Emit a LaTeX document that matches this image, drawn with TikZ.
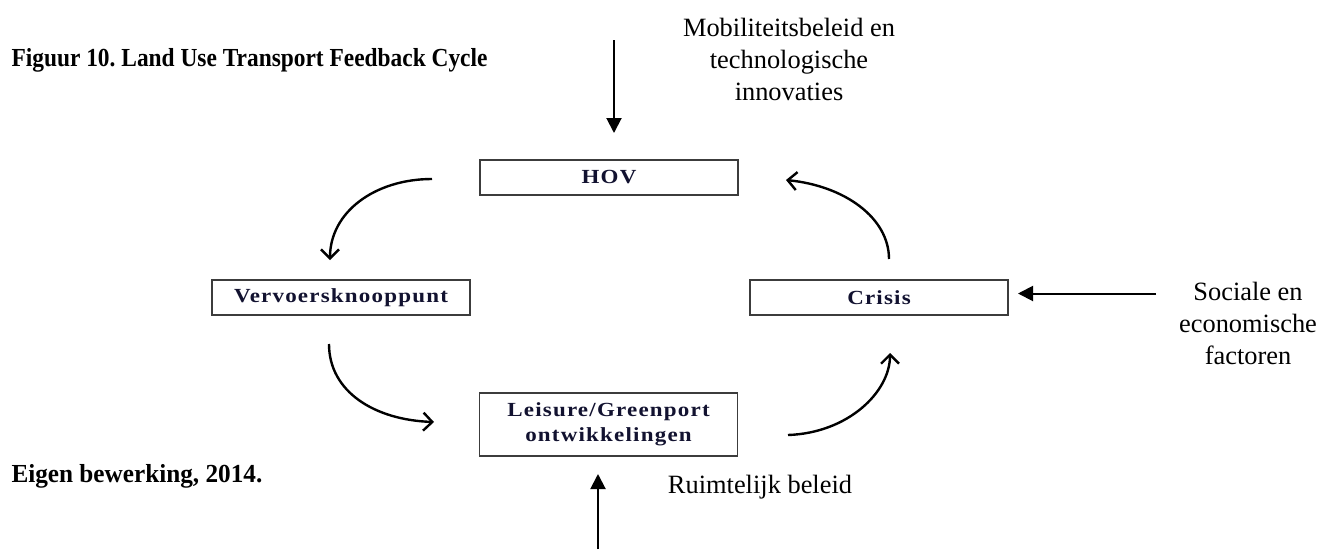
\documentclass[tikz,border=0pt]{standalone}
\usepackage{fontspec}
\setmainfont{Liberation Serif}
\newfontfamily\boxfont[FakeStretch=1.15,LetterSpace=6]{Liberation Serif}
\newfontfamily\titlefont[FakeStretch=0.9]{Liberation Serif}
\newfontfamily\sourcefont[FakeStretch=0.97]{Liberation Serif}
\usetikzlibrary{arrows.meta}
\definecolor{boxtext}{RGB}{18,18,48}
\definecolor{boxline}{RGB}{60,60,60}
\frenchspacing
\begin{document}
\begin{tikzpicture}[x=1pt,y=-1pt,
  stage/.style={draw=boxline, line width=1.3pt, fill=white, inner sep=0pt,
    minimum width=258pt, minimum height=35pt, align=center,
    font=\boxfont\bfseries\fontsize{20}{25}\selectfont, text=boxtext},
  influence/.style={line width=2pt, -{Triangle[length=15pt,width=15pt]}},
  flow/.style={line width=2.4pt, -{Straight Barb[length=9pt,width=18pt,line width=2.4pt]}},
  label/.style={align=center, font=\fontsize{26.4}{32}\selectfont},
  heading/.style={anchor=base west}]
\useasboundingbox (0,0) rectangle (1333,549);

% captions
\node[heading, font=\titlefont\bfseries\fontsize{26}{30}\selectfont] (title) at (8,66) {Figuur 10. Land Use Transport Feedback Cycle};
\node[heading, font=\sourcefont\bfseries\fontsize{26}{30}\selectfont] (source) at (8,482) {Eigen bewerking, 2014.};

% the four stages of the cycle
\node[stage] (hov) at (609,177.5) {HOV};
\node[stage] (knoop) at (341,297.5) {Vervoersknooppunt};
\node[stage] (crisis) at (879,297.5) {Crisis};
\node[stage, minimum height=63pt] (leisure) at (608.5,424.5) {Leisure/Greenport\\ontwikkelingen};

% external influences
\node[label] (mob) at (789,59) {Mobiliteitsbeleid en\\technologische\\innovaties};
\node[label] (soc) at (1248,323) {Sociale en\\economische\\factoren};
\node[label, anchor=base] (ruim) at (760,493) {Ruimtelijk beleid};

\coordinate (mobstart) at (614,40);
\coordinate (mobend) at (614,133);
\coordinate (socstart) at (1156,293.5);
\coordinate (socend) at (1018,293.5);
\coordinate (ruimstart) at (598,549);
\coordinate (ruimend) at (598,474);
\draw[influence] (mobstart) -- (mobend);
\draw[influence] (socstart) -- (socend);
\draw[influence] (ruimstart) -- (ruimend);

% curved arrows of the feedback loop
\coordinate (a1) at (432,179);
\coordinate (a2) at (330,260);
\coordinate (b1) at (329,344);
\coordinate (b2) at (434,422);
\coordinate (c1) at (788,435);
\coordinate (c2) at (890,353);
\coordinate (d1) at (889,259);
\coordinate (d2) at (786,180);
\draw[flow] (a1) .. controls (375,179) and (330,212) .. (a2);
\draw[flow] (b1) .. controls (329,392) and (375,420) .. (b2);
\draw[flow] (c1) .. controls (848,433) and (890,392) .. (c2);
\draw[flow] (d1) .. controls (889,218) and (845,186) .. (d2);
\end{tikzpicture}
\end{document}
